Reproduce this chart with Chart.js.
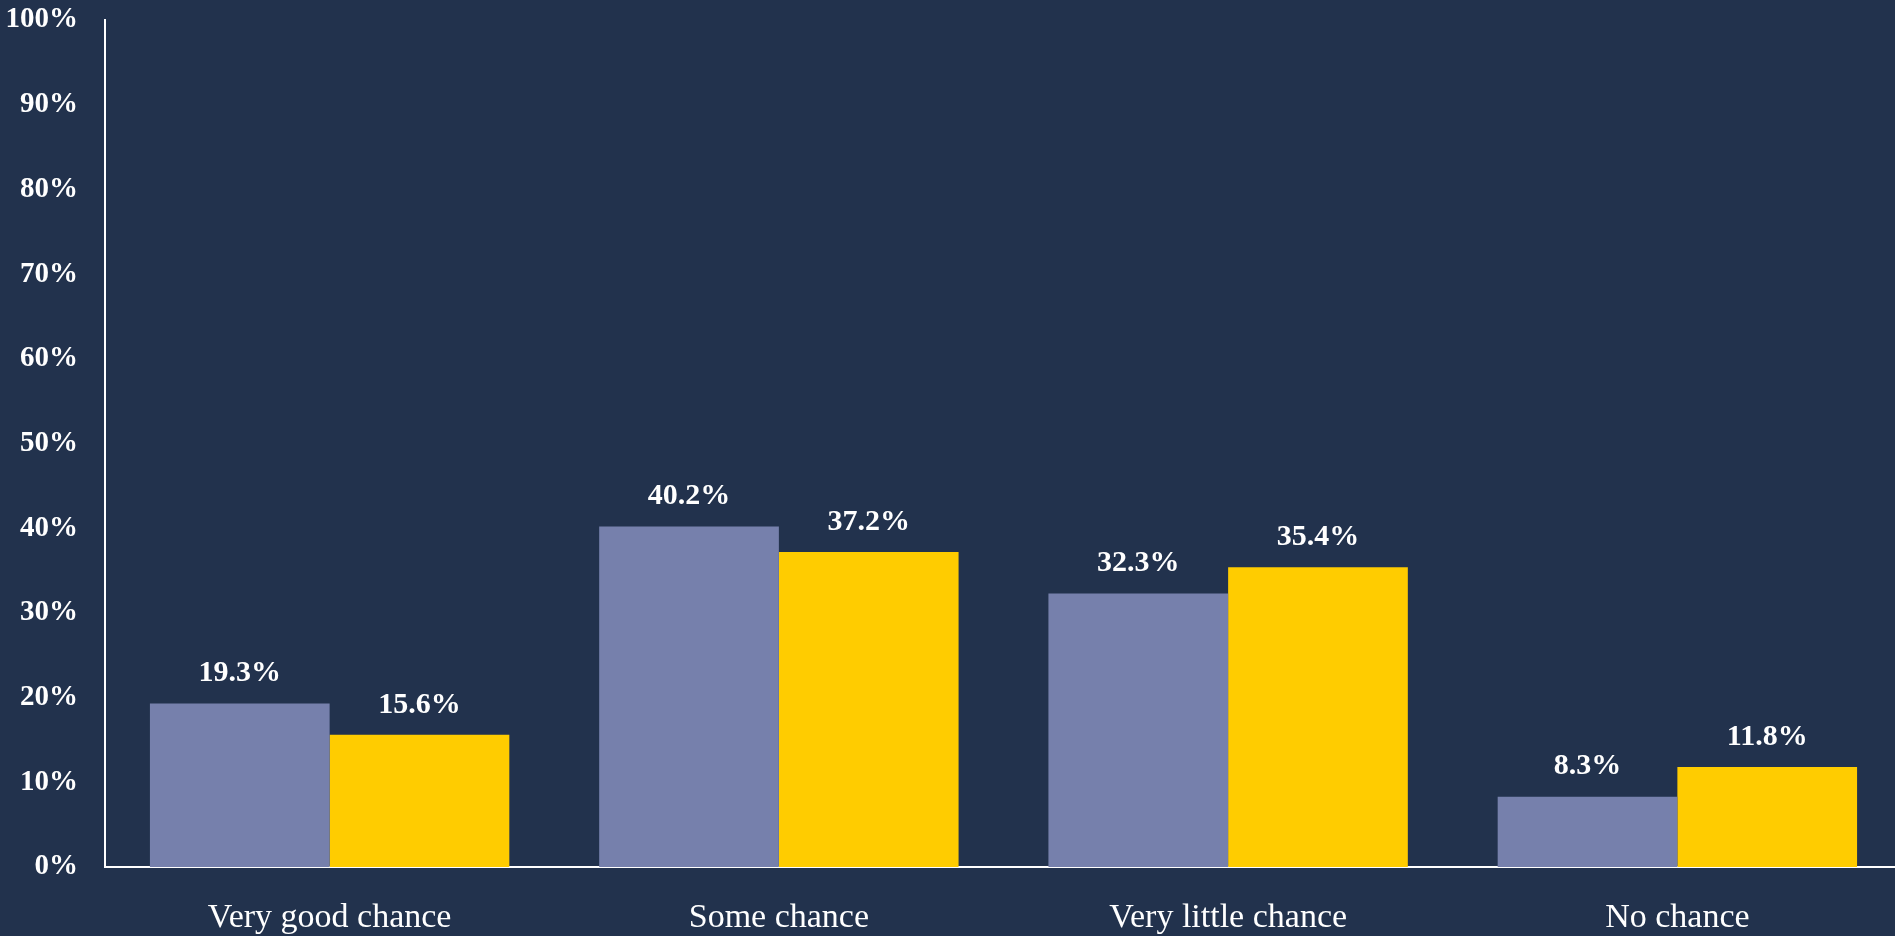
<!DOCTYPE html>
<html>
<head>
<meta charset="utf-8">
<script src="https://cdn.jsdelivr.net/npm/chart.js@4.4.1/dist/chart.umd.min.js"></script>
<style>
  html, body { margin: 0; padding: 0; background: #22324D; overflow: hidden; }
  #wrap { width: 1902px; height: 936px; }
</style>
</head>
<body>
<div id="wrap"><canvas id="chart"></canvas></div>
<script>
// categories and the two series
const categories = ['Very good chance', 'Some chance', 'Very little chance', 'No chance'];
const seriesA = [19.3, 40.2, 32.3, 8.3];
const seriesB = [15.6, 37.2, 35.4, 11.8];
const yTicks = [0, 10, 20, 30, 40, 50, 60, 70, 80, 90, 100];

const FONT = '"Liberation Serif", "Times New Roman", serif';

// value labels above each bar
const barLabels = {
  id: 'barLabels',
  afterDatasetsDraw(chart) {
    const ctx = chart.ctx;
    ctx.save();
    ctx.font = 'bold 30px ' + FONT;
    ctx.fillStyle = '#ffffff';
    ctx.textAlign = 'center';
    ctx.textBaseline = 'middle';
    chart.data.datasets.forEach((ds, i) => {
      chart.getDatasetMeta(i).data.forEach((bar, j) => {
        ctx.fillText(ds.data[j].toFixed(1) + '%', bar.x, bar.y - 30);
      });
    });
    ctx.restore();
  }
};

new Chart(document.getElementById('chart'), {
  type: 'bar',
  data: {
    labels: categories,
    datasets: [{
      label: 'Series 1',
      data: seriesA,
      backgroundColor: '#7680AC'
    }, {
      label: 'Series 2',
      data: seriesB,
      backgroundColor: '#FFCC00'
    }]
  },
  options: {
    responsive: true,
    maintainAspectRatio: false,
    animation: false,
    layout: { padding: { top: 20, right: 0, left: 0, bottom: 0 } },
    datasets: { bar: { categoryPercentage: 0.8, barPercentage: 1.0 } },
    plugins: { legend: { display: false }, tooltip: { enabled: false } },
    scales: {
      x: {
        grid: { display: false, drawTicks: false },
        border: { display: true, color: '#ffffff', width: 2 },
        ticks: { color: '#ffffff', font: { family: FONT, size: 34 }, padding: 31, maxRotation: 0 },
        afterFit(scale) {
          scale.height = 69;
          scale.paddingTop = 0;
          scale.paddingBottom = 0;
        }
      },
      y: {
        min: 0,
        max: 100,
        afterBuildTicks(scale) { scale.ticks = yTicks.map(v => ({ value: v })); },
        grid: { display: false, drawTicks: false },
        border: { display: true, color: '#ffffff', width: 2 },
        ticks: {
          color: '#ffffff',
          font: { family: FONT, size: 29, weight: 'bold' },
          padding: 27,
          callback: v => v + '%'
        },
        afterFit(scale) {
          scale.width = 105;
          scale.paddingTop = 0;
          scale.paddingBottom = 0;
        }
      }
    }
  },
  plugins: [barLabels]
});
</script>
</body>
</html>
